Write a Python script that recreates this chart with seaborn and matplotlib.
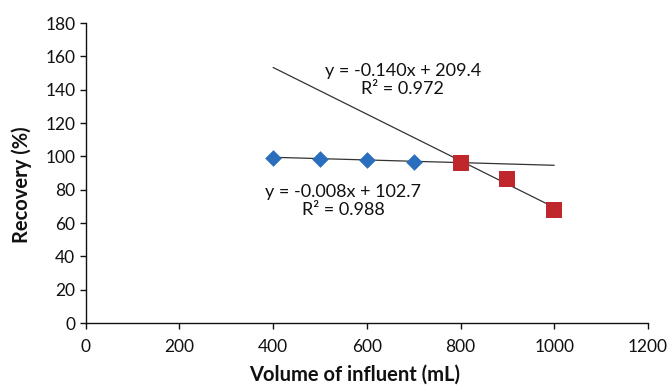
import numpy as np
import pandas as pd
import seaborn as sns
import matplotlib
matplotlib.use("Agg")
import matplotlib.pyplot as plt

# Data
blue_volume = [400, 500, 600, 700]
blue_recovery = [99.3, 98.3, 97.8, 96.6]
red_volume = [800, 900, 1000]
red_recovery = [95.8, 86.2, 67.8]

# Trend line coefficients (from the annotations)
blue_fit = (-0.008, 102.7)
red_fit = (-0.140, 209.4)
fit_range = [400, 1000]

x_ticks = [0, 200, 400, 600, 800, 1000, 1200]
y_ticks = [0, 20, 40, 60, 80, 100, 120, 140, 160, 180]

sns.set_theme(style="white")
plt.rcParams['font.family'] = ['Lato', 'DejaVu Sans']

fig = plt.figure(figsize=(6.7, 3.86), dpi=100)
ax = fig.add_axes([0.128, 0.163, 0.839, 0.777])

# Trend lines
fx = np.array(fit_range, dtype=float)
for slope, icpt in (blue_fit, red_fit):
    ax.plot(fx, slope * fx + icpt, color="#333333", linewidth=0.9, zorder=2)

df_blue = pd.DataFrame({"volume": blue_volume, "recovery": blue_recovery})
df_red = pd.DataFrame({"volume": red_volume, "recovery": red_recovery})

sns.scatterplot(data=df_blue, x="volume", y="recovery", marker="D", s=72,
                color="#2a6ebd", edgecolor="#2a6ebd", linewidth=0, ax=ax, zorder=3)
sns.scatterplot(data=df_red, x="volume", y="recovery", marker="s", s=132,
                color="#c0272d", edgecolor="#c0272d", linewidth=0, ax=ax, zorder=3)

# Equations
ax.text(677, 146, "y = -0.140x + 209.4\nR² = 0.972", ha="center", va="center",
        fontsize=13, linespacing=1.15, color="#111111")
ax.text(549, 73.5, "y = -0.008x + 102.7\nR² = 0.988", ha="center", va="center",
        fontsize=13, linespacing=1.15, color="#111111")

ax.set_xlim(0, 1200)
ax.set_ylim(0, 180)
ax.set_xticks(x_ticks)
ax.set_yticks(y_ticks)
ax.tick_params(axis="both", direction="out", length=4.5, width=1, labelsize=12.5,
               colors="#111111", left=True, bottom=True)
ax.tick_params(axis="x", pad=7)
ax.tick_params(axis="y", pad=3)

ax.set_xlabel("Volume of influent (mL)", fontsize=14.5, weight="bold",
              color="#111111", va="center")
ax.set_ylabel("Recovery (%)", fontsize=14.5, weight="bold",
              color="#111111", va="center")
ax.xaxis.set_label_coords(0.479, -0.173)
ax.yaxis.set_label_coords(-0.114, 0.46)

sns.despine(ax=ax)
for side in ("left", "bottom"):
    ax.spines[side].set_color("#111111")
    ax.spines[side].set_linewidth(1.0)

fig.savefig("out.png", dpi=100)
